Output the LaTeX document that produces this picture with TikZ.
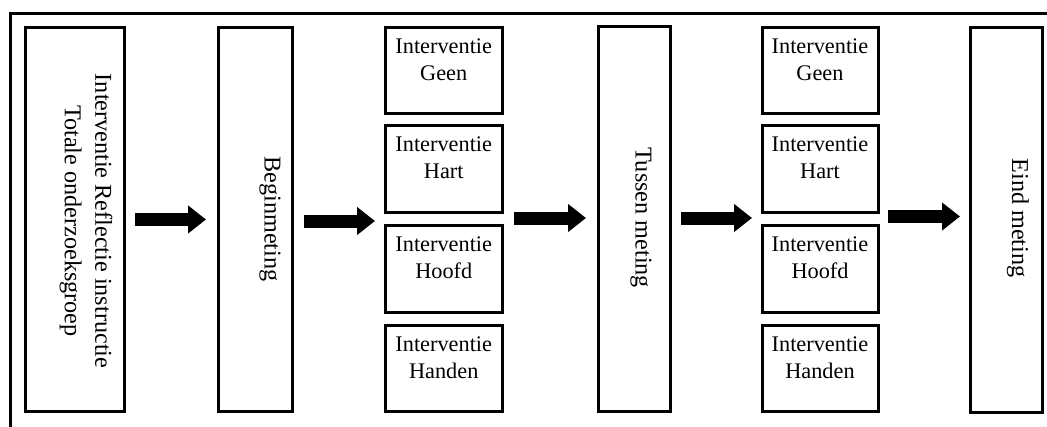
\documentclass[tikz,border=0pt]{standalone}
\usepackage{fontspec}
\setmainfont{Liberation Serif}
\usetikzlibrary{arrows.meta}
\begin{document}
\begin{tikzpicture}[x=1pt,y=-1pt,
  box/.style={draw=black, line width=3pt, inner sep=0pt},
  bigbox/.style={box, minimum height=384pt},
  smallbox/.style={box, minimum width=117pt},
  txt/.style={inner sep=0pt, align=center, font=\fontsize{22.3}{27}\selectfont},
  vtxt/.style={txt, rotate=-90},
  vbig/.style={vtxt, font=\fontsize{24.2}{30.5}\selectfont},
  flow/.style={line width=13pt, -{Triangle[length=18pt,width=27pt]}}]
\useasboundingbox (0,0) rectangle (1047,426);
\clip (0,0) rectangle (1047,426);
\draw[line width=3pt] (10,13) rectangle (1070,450);
% big boxes
\node[bigbox, minimum width=99pt] (b1) at (74.5,219.5) {};
\node[vbig] (b1t) at (86,221) {Interventie Reflectie instructie\\Totale onderzoeksgroep};
\node[bigbox, minimum width=74pt] (b2) at (255,219.5) {};
\node[vbig] (b2t) at (270,219) {Beginmeting};
\node[bigbox, minimum width=72pt, minimum height=385pt] (t) at (634,218.5) {};
\node[vbig] (tt) at (641,217.5) {Tussen meting};
\node[bigbox, minimum width=72pt, minimum height=385pt] (e) at (1006,219.5) {};
\node[vbig] (et) at (1018,218) {Eind meting};
% column 1
\node[smallbox, minimum height=86pt] (g1) at (443.75,70) {};
\node[txt, anchor=north] (g1t) at ([yshift=-13.4pt]g1.north) {Interventie\\Geen};
\node[smallbox, minimum height=87pt] (h1) at (443.75,168.5) {};
\node[txt, anchor=north] (h1t) at ([yshift=-13.4pt]h1.north) {Interventie\\Hart};
\node[smallbox, minimum height=87pt] (o1) at (443.75,268.5) {};
\node[txt, anchor=north] (o1t) at ([yshift=-13.4pt]o1.north) {Interventie\\Hoofd};
\node[smallbox, minimum height=86pt] (n1) at (443.75,368) {};
\node[txt, anchor=north] (n1t) at ([yshift=-13.4pt]n1.north) {Interventie\\Handen};
% column 2
\node[smallbox, minimum width=116pt, minimum height=86pt] (g2) at (820,70) {};
\node[txt, anchor=north] (g2t) at ([yshift=-13.4pt]g2.north) {Interventie\\Geen};
\node[smallbox, minimum width=116pt, minimum height=87pt] (h2) at (820,168.5) {};
\node[txt, anchor=north] (h2t) at ([yshift=-13.4pt]h2.north) {Interventie\\Hart};
\node[smallbox, minimum width=116pt, minimum height=87pt] (o2) at (820,268.5) {};
\node[txt, anchor=north] (o2t) at ([yshift=-13.4pt]o2.north) {Interventie\\Hoofd};
\node[smallbox, minimum width=116pt, minimum height=86pt] (n2) at (820,368) {};
\node[txt, anchor=north] (n2t) at ([yshift=-13.4pt]n2.north) {Interventie\\Handen};
% connector ends at the columns
\coordinate (in1) at (383.5,221);
\coordinate (out1) at (504,218);
\coordinate (in2) at (760.5,218);
\coordinate (out2) at (879.5,216.5);
% arrows
\draw[flow, shorten <=9.5pt, shorten >=10.5pt] (b1.east) -- (b2.west);
\draw[flow, shorten <=10.5pt, shorten >=8.5pt] (b2.east |- in1) -- (in1);
\draw[flow, shorten <=10pt, shorten >=10.5pt] (out1) -- (t.west |- out1);
\draw[flow, shorten <=9.5pt, shorten >=8.5pt] (t.east |- in2) -- (in2);
\draw[flow, shorten <=8.5pt, shorten >=8.5pt] (out2) -- (e.west |- out2);
\end{tikzpicture}
\end{document}
